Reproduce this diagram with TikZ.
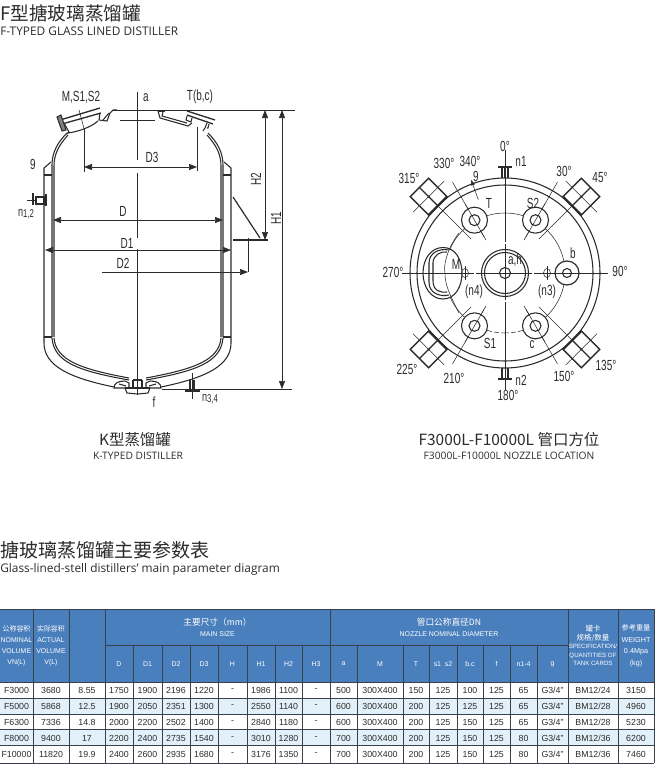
\documentclass[tikz,border=0pt]{standalone}
\usepackage{fontspec}
\setmainfont{Liberation Sans}
\newfontfamily\cjk{Noto Sans CJK SC}
\newfontfamily\capfont{Open Sans}
\newfontfamily\narrowfont[FakeStretch=0.68]{Liberation Sans}
\usetikzlibrary{
  arrows.meta,
}
\definecolor{headblue}{HTML}{4A7FBD}
\definecolor{rowblue}{HTML}{E2F1F9}
\definecolor{rulegrey}{HTML}{39424C}
\definecolor{inkgrey}{HTML}{2B2B2B}
\tikzset{
  lbl/.style={font=\narrowfont\fontsize{11}{12}\selectfont, text=inkgrey, inner sep=0pt},
  caphead/.style={font=\cjk\fontsize{14}{16}\selectfont, text=inkgrey, inner sep=0pt},
  capsub/.style={font=\capfont\fontsize{7.7}{8}\selectfont, text=inkgrey, inner sep=0pt},
  dimline/.style={line width=.5pt, draw=inkgrey, {Triangle[length=6pt,width=4.5pt]}-{Triangle[length=6pt,width=4.5pt]}},
  dimend/.style={line width=.5pt, draw=inkgrey, -{Triangle[length=6pt,width=4.5pt]}},
  wall/.style={line width=.8pt, draw=inkgrey},
  thin line/.style={line width=.4pt, draw=inkgrey},
  cell/.style={font=\fontsize{6.6}{7}\selectfont, text=inkgrey, inner sep=0pt},
  headcell/.style={font=\fontsize{5.2}{8.2}\selectfont, text=white, inner sep=0pt, align=center},
}
\begin{document}
\begin{tikzpicture}[x=.75pt,y=-.75pt]
\useasboundingbox (0,0) rectangle (659,768);
\node[caphead, anchor=west] (title) at (0,13) {F型搪玻璃蒸馏罐};
\node[capsub, font=\capfont\fontsize{8.9}{9}\selectfont, anchor=west] (subtitle) at (0,31) {F-TYPED GLASS LINED DISTILLER};

\coordinate (top-l) at (113,110);
\coordinate (top-r) at (295,110);
\coordinate (base-l) at (162,389);
\coordinate (base-r) at (292,389);
\draw[thin line] (top-l) -- (top-r);
\draw[thin line] (base-l) -- (base-r);
\coordinate (axis-t) at (137,92);
\coordinate (axis-u) at (137,160);
\coordinate (axis-v) at (137,173);
\coordinate (axis-w) at (137,238);
\coordinate (axis-x) at (137,249);
\coordinate (axis-b) at (137,395);
\draw[thin line] (axis-t) -- (axis-u);
\draw[thin line] (axis-v) -- (axis-w);
\draw[thin line] (axis-x) -- (axis-b);

\foreach \s in {0,1} {
  \begin{scope}[xshift=\s*275*.75pt, xscale=1-2*\s]
    \draw[wall] (52,337) -- (52,165) .. controls (52,152) and (58,142) .. (67,133);
    \draw[wall] (54,337) -- (54,166) .. controls (54,154) and (59,145) .. (68,135);
    \draw[wall] (44,337) -- (44,168) -- (51,162);
    \draw[wall] (44,175) -- (52,175);
    \draw[wall] (44,337) -- (52,337);
    \draw[wall] (44,337) -- (44,343) .. controls (44,366) and (70,378) .. (114,387);
    \draw[wall] (52,338) .. controls (54,362) and (78,371) .. (129,380);
    \draw[wall] (54,338) .. controls (56,360) and (80,369) .. (129,378);
    \draw[wall] (114,388) .. controls (114,383) and (118,381) .. (125,381) -- (129,383) -- (129,388) -- cycle;
    \draw[wall] (119,384) -- (126,386);
    \draw[wall] (133,380) -- (133,388);
    \draw[wall] (125,388) -- (127,393) -- (137,394);
  \end{scope}
}
\draw[wall] (133,380) -- (142,380);
\draw[wall] (125,388) -- (150,388);

% M nozzle, a opening, T nozzle
\draw[wall, line width=1pt] (60,120) -- (100,108);
\draw[wall, line width=1pt] (62,124) -- (101,113);
\draw[wall, fill=inkgrey!60] (57,117) -- (61,115) -- (66,130) -- (62,131) -- cycle;
\draw[wall] (64,123) -- (69,132) -- (66,134);
\draw[wall] (68,133) .. controls (76,132) and (90,128) .. (98,121);
\draw[wall] (100,113) -- (99,120) -- (107,121) -- (110,113) -- (113,110) -- (117,110);
\draw[wall] (103,120) -- (109,113);
\draw[wall] (158,111) -- (165,111);
\draw[wall] (158,111) -- (160,118) -- (188,126) -- (192,123);
\draw[wall] (163,112) -- (162,116) -- (187,123);
\draw[wall, line width=1pt] (187,111) -- (215,120);
\draw[wall, line width=1pt] (187,115) -- (213,124);
\draw[wall] (187,116) -- (186,120) -- (191,122) -- (192,118);
\draw[wall] (207,123) -- (205,128) -- (203,131);
\draw[wall] (209,124) -- (208,128) -- (207,128);
\draw[thin line] (120,120) -- (155,120);
\draw[thin line] (79,110) -- (85,132);

\coordinate (d3-lx) at (84,128);
\coordinate (d3-ly) at (84,172);
\coordinate (d3-rx) at (197,127);
\coordinate (d3-ry) at (197,171);
\draw[thin line] (d3-lx) -- (d3-ly);
\draw[thin line] (d3-rx) -- (d3-ry);
\coordinate (d3-l) at (84,167);
\coordinate (d3-r) at (197,167);
\draw[dimline] (d3-l) -- (d3-r);
\coordinate (d-l) at (53,220);
\coordinate (d-r) at (223,220);
\draw[dimline] (d-l) -- (d-r);
\coordinate (d1-l) at (45,250);
\coordinate (d1-r) at (231,250);
\draw[dimline] (d1-l) -- (d1-r);
\coordinate (d2-l) at (102,272);
\coordinate (d2-r) at (248,272);
\draw[dimend] (d2-l) -- (d2-r);
\coordinate (d2-t) at (248,238);
\draw[thin line] (d2-t) -- (d2-r);
\coordinate (h-t) at (265,110);
\coordinate (h2-b) at (265,240);
\draw[dimline] (h-t) -- (h2-b);
\coordinate (h1-t) at (282,110);
\coordinate (h1-b) at (282,389);
\draw[dimline] (h1-t) -- (h1-b);

\draw[wall, line width=.9pt] (233,197) -- (260,238);
\draw[wall, line width=1pt] (233,240) -- (268,240);

\draw[thin line] (27,200) -- (37,200);
\draw[wall, line width=1.4pt] (33,193) -- (33,205);
\draw[wall, fill=white] (36,197) rectangle (44,204);
\draw[wall, line width=1.2pt] (46,194) -- (46,206);

\draw[thin line] (192,373) -- (192,399);
\draw[wall] (190,380) -- (190,389);
\draw[wall] (194,380) -- (194,389);
\draw[wall, line width=1.6pt] (185,391) -- (200,391);

\node[lbl] (lbl-m) at (81,97) {M,S1,S2};
\node[lbl] (lbl-a) at (146,98) {a};
\node[lbl] (lbl-t) at (200,97) {T(b,c)};
\node[lbl] (lbl-d3) at (152,157) {D3};
\node[lbl, rotate=90] (lbl-h2) at (256,179) {H2};
\node[lbl, rotate=90] (lbl-h1) at (276,218) {H1};
\node[lbl] (lbl-d) at (123,211) {D};
\node[lbl] (lbl-d1) at (127,243) {D1};
\node[lbl] (lbl-d2) at (123,263) {D2};
\node[lbl] (lbl-g) at (33,164) {9};
\node[lbl, font=\narrowfont\fontsize{10}{10}\selectfont] (lbl-n12) at (26,214) {n\raisebox{-1pt}{\fontsize{8.5}{9}\selectfont 1,2}};
\node[lbl] (lbl-f) at (154,402) {f};
\node[lbl, font=\narrowfont\fontsize{10}{10}\selectfont] (lbl-n34) at (210,399) {n\raisebox{-1pt}{\fontsize{8.5}{9}\selectfont 3,4}};

\begin{scope}[shift={(505,273)}]
  \draw[wall] (0,0) circle [radius=95];
  \draw[wall] (0,0) circle [radius=88];
  \draw[thin line] (0,0) circle [radius=60];
  \coordinate (axis-n) at (0,-123);
  \coordinate (axis-s) at (0,117);
  \coordinate (axis-e) at (103,0);
  \coordinate (axis-o) at (-103,0);
  \draw[thin line] (axis-n) -- (axis-s);
  \draw[thin line] (axis-o) -- (axis-e);
  \foreach \a in {45,135,225,315} {
    \draw[thin line] (\a-90:48) -- (\a-90:108);
    \begin{scope}[shift={(\a-90:108)}, rotate=-\a]
      \draw[wall, line width=1pt] (-13,-13) rectangle (13,13);
      \draw[wall, line width=1.7pt] (-13,13) -- (13,13);
      \draw[wall, line width=1pt] (0,-13) -- (0,13);
      \draw[thin line] (-22,0) -- (22,0);
      \fill[inkgrey] (0,0) circle [radius=1.5];
    \end{scope}
  }
  \foreach \a in {30,150,210,330} {
    \draw[thin line] (\a-90:38) -- (\a-90:105);
    \draw[wall, fill=white] (\a-90:61) circle [radius=13];
    \draw[wall] (\a-90:61) circle [radius=5.5];
    \draw[thin line] (\a-90:42) -- (\a-90:80);
  }
  \draw[wall, line width=.9pt, fill=white] (62,0) circle [radius=12];
  \draw[wall] (62,0) circle [radius=4.5];
  \draw[thin line] (50,0) -- (74,0);
  \draw[wall, fill=white] (0,0) circle [radius=23.5];
  \draw[wall] (0,0) circle [radius=20.5];
  \draw[wall] (0,0) circle [radius=5.5];
  \draw[thin line] (-24,0) -- (24,0);
  \draw[thin line] (0,-24) -- (0,24);
  \draw[wall, fill=white] (-62,-25.5) .. controls (-50,-25.5) and (-43,-14) .. (-43,0) .. controls (-43,14) and (-50,26) .. (-62,26) .. controls (-74,26) and (-82,14) .. (-82,0) .. controls (-82,-14) and (-74,-25.5) .. (-62,-25.5) -- cycle;
  \draw[wall] (-72,-10) -- (-72,8) .. controls (-72,18) and (-64,20) .. (-58,19);
  \draw[wall] (-76,-10) -- (-76,9) .. controls (-76,21) and (-64,24) .. (-56,22);
  \draw[wall] (-72,-10) .. controls (-72,-18) and (-64,-22) .. (-58,-21);
  \draw[wall] (-76,-10) .. controls (-76,-20) and (-66,-25) .. (-56,-23);
  \draw[thin line] (-82,0) -- (-43,0);
  \draw[thin line] (-46,-40) .. controls (-57,-26) and (-62,-8) .. (-60,0) .. controls (-60,12) and (-56,20) .. (-46,40);
  \foreach \x in {-40,42} {
    \draw[thin line] (\x,0) ellipse [x radius=3.5, y radius=4.5];
    \draw[thin line] (\x,-7) -- (\x,7);
  }
  \foreach \x in {-12,-5,5,12} {
    \draw[white, line width=1pt] (\x,58) -- (\x,61);
  }
  \foreach \x in {-30,28} {
    \draw[white, line width=1pt] (\x,-1) -- (\x,1);
    \draw[white, line width=1pt] (-1,\x) -- (1,\x);
  }
  \draw[wall] (-3,-105) -- (-3,-95);
  \draw[wall] (0,-105) -- (0,-95);
  \draw[wall] (3,-105) -- (3,-95);
  \draw[wall, line width=1.5pt] (-7,-106) -- (7,-106);
  \draw[wall] (-3,95) -- (-3,105);
  \draw[wall] (3,95) -- (3,105);
  \draw[wall, line width=1.5pt] (-7,106) -- (7,106);
  \coordinate (gee-o) at (340-90:99);
  \coordinate (gee-i) at (340-90:78);
  \draw[thin line, {Triangle[length=4pt,width=3pt]}-] (gee-o) -- (gee-i);
\end{scope}

\node[lbl] (lbl-0) at (505,146) {0°};
\node[lbl] (lbl-n1) at (521,161) {n1};
\node[lbl] (lbl-30) at (564,171) {30°};
\node[lbl] (lbl-45) at (600,177) {45°};
\node[lbl] (lbl-330) at (444,163) {330°};
\node[lbl] (lbl-340) at (470,161) {340°};
\node[lbl] (lbl-315) at (409,178) {315°};
\node[lbl] (lbl-9) at (476,176) {9};
\node[lbl] (lbl-tt) at (489,203) {T};
\node[lbl] (lbl-s2) at (533,203) {S2};
\node[lbl] (lbl-b) at (573,253) {b};
\node[lbl] (lbl-ah) at (515,260) {a,h};
\node[lbl] (lbl-mm) at (456,264) {M};
\node[lbl] (lbl-270) at (393,272) {270°};
\node[lbl] (lbl-90) at (620,271) {90°};
\node[lbl] (lbl-n4) at (474,292) {(n4)};
\node[lbl] (lbl-n3) at (547,292) {(n3)};
\node[lbl] (lbl-s1) at (490,343) {S1};
\node[lbl] (lbl-c) at (532,345) {c};
\node[lbl] (lbl-225) at (407,369) {225°};
\node[lbl] (lbl-210) at (454,378) {210°};
\node[lbl] (lbl-150) at (564,376) {150°};
\node[lbl] (lbl-135) at (606,365) {135°};
\node[lbl] (lbl-n2) at (521,380) {n2};
\node[lbl] (lbl-180) at (508,395) {180°};

\node[caphead, font=\cjk\fontsize{11.6}{13}\selectfont] (cap-k) at (135,440) {K型蒸馏罐};
\node[capsub] (cap-ks) at (138,456) {K-TYPED DISTILLER};
\node[caphead, font=\cjk\fontsize{11.6}{13}\selectfont] (cap-f) at (509,440) {F3000L-F10000L 管口方位};
\node[capsub] (cap-fs) at (509,456) {F3000L-F10000L NOZZLE LOCATION};

\node[caphead, font=\cjk\fontsize{14.3}{16}\selectfont, anchor=west] (title-b) at (0,550) {搪玻璃蒸馏罐主要参数表};
\node[capsub, font=\capfont\fontsize{8.9}{9}\selectfont, anchor=west] (subtitle-b) at (0,569) {Glass-lined-stell distillers’ main parameter diagram};

\fill[headblue] (0,609) rectangle (654,682);
\foreach \y in {698,729.5} {
  \fill[rowblue] (0,\y) rectangle (654,\y+15.8);
}
\foreach \x in {33,69,105.5,133,162,190,218,247,275,302,330,357,403,429,457,483,510,537,568,618} {
  \draw[rulegrey, line width=.5pt] (\x,682) -- (\x,763);
}
\foreach \x in {33,69,105.5,330,568,618} {
  \draw[rulegrey, line width=.7pt] (\x,609) -- (\x,682);
}
\foreach \x in {133,162,190,218,247,275,302,357,403,429,457,483,510,537} {
  \draw[rulegrey, line width=.5pt] (\x,645) -- (\x,682);
}
\draw[rulegrey, line width=.6pt] (105.5,645) -- (568,645);
\foreach \y in {609,682,698,714,729.5,745.5,763} {
  \draw[rulegrey, line width=.6pt] (0,\y) -- (654,\y);
}
\draw[rulegrey, line width=.6pt] (654,609) -- (654,763);

\node[headcell] (h-nom) at (16.5,645.5) {{\cjk 公称容积}\\NOMINAL\\VOLUME\\VN(L)};
\node[headcell] (h-act) at (51,645.5) {{\cjk 实际容积}\\ACTUAL\\VOLUME\\V(L)};
\node[headcell] (h-main) at (217.5,627) {{\cjk\fontsize{6.5}{8}\selectfont 主要尺寸（mm）}\\MAIN SIZE};
\node[headcell] (h-noz) at (449,627) {{\cjk\fontsize{6.5}{8}\selectfont 管口公称直径DN}\\NOZZLE NOMINAL DIAMETER};
\node[headcell, font=\fontsize{4.6}{6.4}\selectfont] (h-spec) at (593,645.5) {{\cjk\fontsize{5.6}{7.4}\selectfont 罐卡}\\{\cjk\fontsize{5.6}{7.4}\selectfont 规格/数量}\\SPECIFICATION/\\QUANTITIES OF\\TANK CARDS};
\node[headcell, font=\fontsize{5.4}{8.6}\selectfont] (h-wt) at (636,645.5) {{\cjk 参考重量}\\WEIGHT\\0.4Mpa\\(kg)};
\foreach \x/\t [count=\c] in {119/D,147.5/D1,176/D2,204/D3,232.5/H,261/H1,288.5/H2,316/H3,343.5/a,380/M,416/T,443/s1\ \ s2,470/b.c,496.5/f,523.5/n1-4,552.5/g} {
  \node[headcell] (hc-\c) at (\x,664) {\t};
}

\foreach \y/\vals [count=\r] in {
  690/{F3000,3680,8.55,1750,1900,2196,1220,-,1986,1100,-,500,300X400,150,125,100,125,65,G3/4",BM12/24,3150},
  706/{F5000,5868,12.5,1900,2050,2351,1300,-,2550,1140,-,600,300X400,200,125,125,125,65,G3/4",BM12/28,4960},
  722/{F6300,7336,14.8,2000,2200,2502,1400,-,2840,1180,-,600,300X400,200,125,150,125,65,G3/4",BM12/28,5230},
  738/{F8000,9400,17,2200,2400,2735,1540,-,3010,1280,-,700,300X400,200,125,150,125,80,G3/4",BM12/36,6200},
  754/{F10000,11820,19.9,2400,2600,2935,1680,-,3176,1350,-,700,300X400,200,125,150,125,80,G3/4",BM12/36,7460}} {
  \foreach \t [count=\c] in \vals {
    \pgfmathsetmacro{\x}{{16.5,51,87,119,147.5,176,204,232.5,261,288.5,316,343.5,380,416,443,470,496.5,523.5,552.5,593,636}[\c-1]}
    \node[cell] (c-\r-\c) at (\x,\y) {\t};
  }
}
\end{tikzpicture}
\end{document}
